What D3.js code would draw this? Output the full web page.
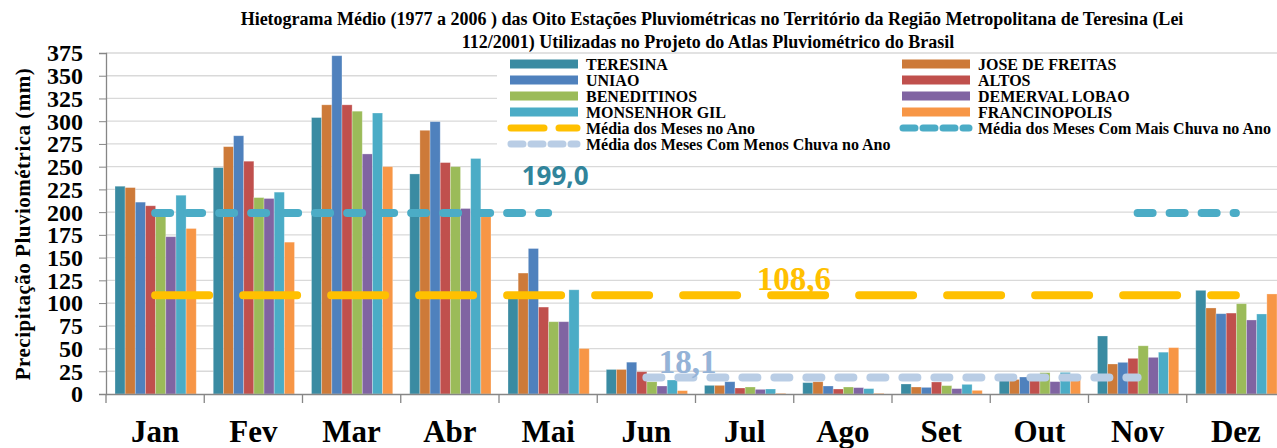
<!DOCTYPE html>
<html>
<head>
<meta charset="utf-8">
<script src="https://cdn.jsdelivr.net/npm/d3@7"></script>
<style>
  body { margin: 0; background: #fff; }
  svg { display: block; }
</style>
</head>
<body>
<div id="chart"></div>
<script>
var months = ["Jan", "Fev", "Mar", "Abr", "Mai", "Jun", "Jul", "Ago", "Set", "Out", "Nov", "Dez"];
var stations = ["TERESINA", "JOSE DE FREITAS", "UNIAO", "ALTOS", "BENEDITINOS", "DEMERVAL LOBAO", "MONSENHOR GIL", "FRANCINOPOLIS"];

// mm por mes
var teresina      = [228.5, 249, 304, 242, 105, 27, 9.5, 12.5, 11, 16, 63.8, 114];
var joseDeFreitas = [227, 272, 318, 290, 133, 27, 9.5, 13.5, 7.7, 16, 33, 94.6];
var uniao         = [211, 284, 372, 299.5, 160, 35, 13.5, 8.8, 7.3, 18.7, 34.8, 88.3];
var altos         = [207, 256, 318, 254.5, 95.6, 24.5, 6.6, 5.5, 13.2, 15, 39.2, 89];
var beneditinos   = [198, 216, 311, 250, 79.5, 13.5, 7.7, 7.7, 9.2, 23.5, 53, 99.3];
var demervalLobao = [173, 215, 264, 204, 79.5, 8.8, 5.1, 7, 5.9, 13.6, 40.3, 81.4];
var monsenhorGil  = [218.6, 222, 309, 259, 114.6, 15.4, 5.5, 5.9, 10.6, 23.8, 46, 88];
var francinopolis = [182, 167, 250, 195, 50, 3.7, 0.7, 0.7, 4, 16, 51, 110];

// medias (null = sem linha naquele mes)
var mediaAno   = [108.6, 108.6, 108.6, 108.6, 108.6, 108.6, 108.6, 108.6, 108.6, 108.6, 108.6, 108.6];
var mediaMais  = [199, 199, 199, 199, 199, null, null, null, null, null, 199, 199];
var mediaMenos = [null, null, null, null, null, 18.1, 18.1, 18.1, 18.1, 18.1, 18.1, null];

var yTicks = [0, 25, 50, 75, 100, 125, 150, 175, 200, 225, 250, 275, 300, 325, 350, 375];

var seriesValues = [teresina, joseDeFreitas, uniao, altos, beneditinos, demervalLobao, monsenhorGil, francinopolis];
var colors = ["#3a8ba2", "#cd7a39", "#4f81bd", "#c0504d", "#9bbb59", "#8064a2", "#4bacc6", "#f79646"];

var width = 1277, height = 448;
var serif = "'Liberation Serif', 'Times New Roman', serif";

var svg = d3.select("#chart").append("svg")
	.attr("width", width)
	.attr("height", height)
	.style("background", "#fff");

var xScale = d3.scaleBand()
	.domain(months)
	.range([106, 1285]);

var x1 = d3.scaleBand()
	.domain(d3.range(stations.length))
	.range([9, xScale.bandwidth() - 8]);

var yScale = d3.scaleLinear()
	.domain([0, 375])
	.range([394, 53]);

// gridlines
svg.append("g").selectAll("line").data(yTicks.slice(1))
	.enter().append("line")
		.attr("x1", 106).attr("x2", width)
		.attr("y1", function(d){ return yScale(d); })
		.attr("y2", function(d){ return yScale(d); })
		.style("stroke", "#d9d9d9")
		.style("stroke-width", 1.3);

// bars
var groups = svg.append("g").selectAll("g").data(months)
	.enter().append("g")
		.attr("transform", function(d){ return "translate(" + xScale(d) + ",0)"; });

groups.selectAll("rect")
	.data(function(d, i){
		return seriesValues.map(function(s, k){ return {k: k, v: s[i]}; });
	})
	.enter().append("rect")
		.attr("x", function(d){ return x1(d.k); })
		.attr("width", x1.bandwidth())
		.attr("y", function(d){ return yScale(d.v); })
		.attr("height", function(d){ return yScale(0) - yScale(d.v); })
		.style("fill", function(d){ return colors[d.k]; })
		.style("stroke", "rgba(255,255,255,0.35)")
		.style("stroke-width", 0.8);

// axes
var yAxis = d3.axisLeft(yScale).tickValues(yTicks).tickSize(7).tickFormat(d3.format("d"));
var yG = svg.append("g").attr("transform", "translate(106,0)").call(yAxis);
yG.select(".domain").attr("stroke", "#868686").attr("stroke-width", 1.3);
yG.selectAll(".tick line").attr("stroke", "#868686");
yG.selectAll("text")
	.attr("x", -23)
	.attr("dy", "0.33em")
	.style("font-family", serif)
	.style("font-weight", "bold")
	.style("font-size", "24px")
	.style("fill", "#000");

var xAxis = d3.axisBottom(xScale).tickSize(0).tickFormat("");
var xG = svg.append("g").attr("transform", "translate(0,394)").call(xAxis);
xG.select(".domain").attr("stroke", "#868686").attr("stroke-width", 1.3);
xG.selectAll(".tick").remove();

svg.append("g").selectAll("line").data(months)
	.enter().append("line")
		.attr("x1", function(d){ return xScale(d); })
		.attr("x2", function(d){ return xScale(d); })
		.attr("y1", 394).attr("y2", 403)
		.style("stroke", "#868686")
		.style("stroke-width", 1.3);

svg.append("g").selectAll("text").data(months)
	.enter().append("text")
		.attr("x", function(d){ return xScale(d) + xScale.bandwidth() / 2; })
		.attr("y", 442)
		.attr("text-anchor", "middle")
		.style("font-family", serif)
		.style("font-weight", "bold")
		.style("font-size", "31px")
		.text(function(d){ return d; });

// linhas das medias
var lineGen = d3.line()
	.defined(function(d){ return d != null; })
	.x(function(d, i){ return xScale(months[i]) + xScale.bandwidth() / 2; })
	.y(function(d){ return yScale(d); });

var avgLines = [
	{values: mediaAno, color: "#ffc000", dash: "54,34"},
	{values: mediaMais, color: "#4bacc6", dash: "15,17"},
	{values: mediaMenos, color: "#b9cde5", dash: "15,17"}
];

svg.append("g").selectAll("path").data(avgLines)
	.enter().append("path")
		.attr("d", function(d){ return lineGen(d.values); })
		.style("fill", "none")
		.style("stroke", function(d){ return d.color; })
		.style("stroke-width", 8)
		.style("stroke-linecap", "round")
		.style("stroke-dasharray", function(d){ return d.dash; });

// rotulos das medias
svg.append("text")
	.attr("x", xScale("Mai") + xScale.bandwidth() / 2 + 7)
	.attr("y", yScale(mediaMais[4]) - 28)
	.attr("text-anchor", "middle")
	.style("font-family", "'Open Sans', sans-serif")
	.style("font-weight", "bold")
	.style("font-size", "26px")
	.style("fill", "#31849b")
	.text("199,0");

svg.append("text")
	.attr("x", xScale("Ago"))
	.attr("y", yScale(mediaAno[7]) - 5)
	.attr("text-anchor", "middle")
	.style("font-family", serif)
	.style("font-weight", "bold")
	.style("font-size", "33px")
	.style("fill", "#ffc000")
	.text("108,6");

svg.append("text")
	.attr("x", xScale("Jul") - 8)
	.attr("y", yScale(mediaMenos[5]) - 5)
	.attr("text-anchor", "middle")
	.style("font-family", serif)
	.style("font-weight", "bold")
	.style("font-size", "33px")
	.style("fill", "#95b3d7")
	.text("18,1");

// legenda
svg.append("rect")
	.attr("x", 497).attr("y", 55)
	.attr("width", width - 497).attr("height", 97)
	.style("fill", "#fff");

var legendItems = stations.map(function(s, i){ return {name: s, type: "bar", color: colors[i]}; });
legendItems.push({name: "Média dos Meses no Ano", type: "line", color: "#ffc000", dash: "33,15"});
legendItems.push({name: "Média dos Meses Com Mais Chuva no Ano", type: "line", color: "#4bacc6", dash: "12,8"});
legendItems.push({name: "Média dos Meses Com Menos Chuva no Ano", type: "line", color: "#b9cde5", dash: "12,8"});

var legend = svg.append("g").selectAll("g").data(legendItems)
	.enter().append("g")
		.attr("transform", function(d, i){
			return "translate(" + (i % 2 ? 902 : 510) + "," + (64 + Math.floor(i / 2) * 16) + ")";
		});

legend.filter(function(d){ return d.type == "bar"; }).append("rect")
	.attr("x", 0).attr("y", -4.5)
	.attr("width", 68).attr("height", 9)
	.style("fill", function(d){ return d.color; });

legend.filter(function(d){ return d.type == "line"; }).append("line")
	.attr("x1", 1).attr("x2", 67)
	.attr("y1", 0).attr("y2", 0)
	.style("stroke", function(d){ return d.color; })
	.style("stroke-width", 7)
	.style("stroke-linecap", "round")
	.style("stroke-dasharray", function(d){ return d.dash; });

legend.append("text")
	.attr("x", 76)
	.attr("y", 5.5)
	.style("font-family", serif)
	.style("font-weight", "bold")
	.style("font-size", "16px")
	.text(function(d){ return d.name; });

// titulo
var title = svg.append("text")
	.attr("text-anchor", "middle")
	.style("font-family", serif)
	.style("font-weight", "bold")
	.style("font-size", "18px");
title.append("tspan").attr("x", 712).attr("y", 25)
	.text("Hietograma Médio (1977 a 2006 ) das Oito Estações Pluviométricas no Território da Região Metropolitana de Teresina (Lei");
title.append("tspan").attr("x", 708).attr("y", 48)
	.text("112/2001) Utilizadas no Projeto do Atlas Pluviométrico do Brasil");

svg.append("text")
	.attr("transform", "translate(30,224) rotate(-90)")
	.attr("text-anchor", "middle")
	.style("font-family", serif)
	.style("font-weight", "bold")
	.style("font-size", "21px")
	.style("letter-spacing", "0.5px")
	.text("Precipitação Pluviométrica (mm)");
</script>
</body>
</html>
